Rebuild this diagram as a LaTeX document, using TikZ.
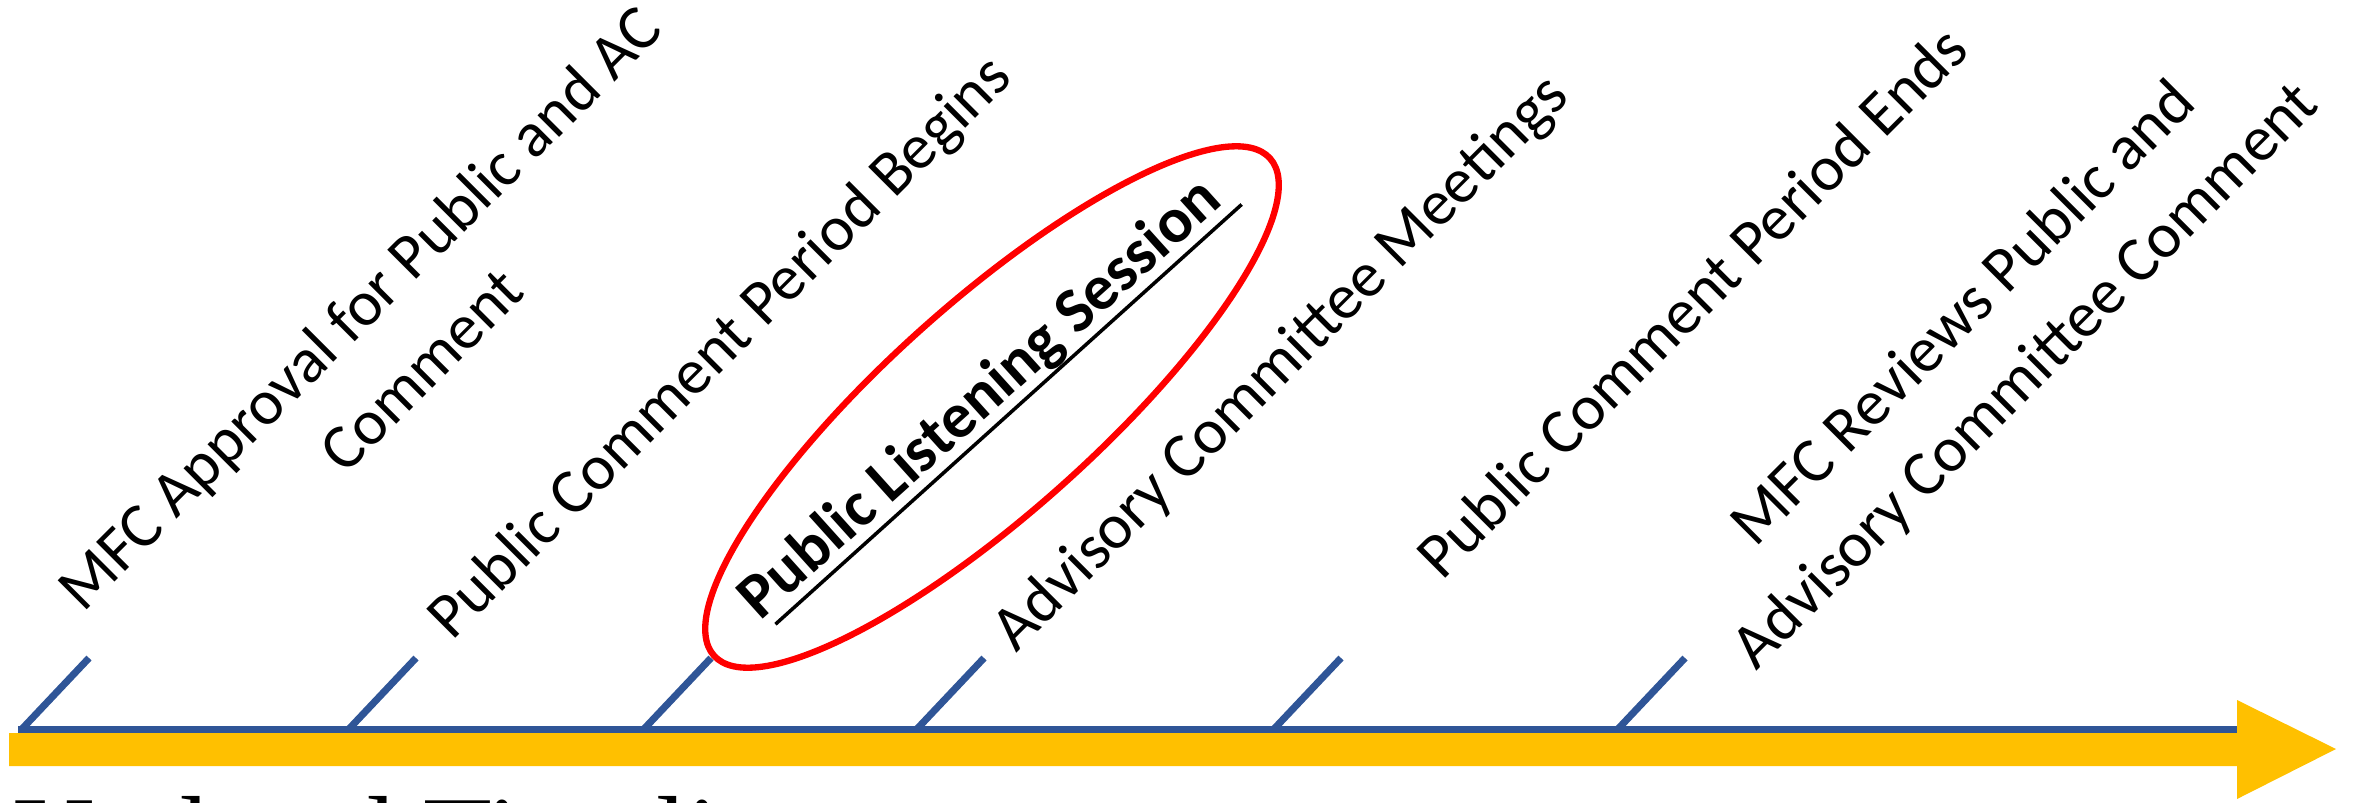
\documentclass[tikz,border=0pt]{standalone}
\usepackage{fontspec}
\setmainfont{Carlito}
\newfontfamily\timelinefont{Liberation Serif}
\usetikzlibrary{calc}
\definecolor{tickblue}{RGB}{47,85,151}
\definecolor{arrowgold}{RGB}{255,192,0}

\begin{document}
\begin{tikzpicture}[x=0.01cm,y=0.01cm,
  tickline/.style={draw=tickblue,line width=2pt},
  event/.style={rotate=45,anchor=base west,inner sep=0pt,align=center,
    font=\fontsize{18.2}{25}\selectfont}]
  \useasboundingbox (0,0) rectangle (2354,802);
  \clip (0,0) rectangle (2354,802);
  % gold arrow with the blue line on top
  \fill[arrowgold] (9,36) -- (9,69) -- (2237,69) -- (2237,102) -- (2336,53) -- (2237,3) -- (2237,36) -- cycle;
  \coordinate (start) at (18,72.5);
  \coordinate (stop) at (2237,72.5);
  \draw[tickline] (start) -- (stop);
  % ticks
  \foreach \x [count=\i] in {21,348,643,916,1273,1617}{
    \coordinate (foot\i) at (\x,72);
    \coordinate (top\i) at (\x+68,144);
    \draw[tickline] (foot\i) -- (top\i);
  }
  % events (two-line nodes sit on their last line)
  \node[event] (mfcok) at (145,126) {MFC Approval for Public and AC\\Comment};
  \node[event] (pcbegin) at (452,160) {Public Comment Period Begins};
  \node[event,rotate=-3,font=\fontsize{18.2}{25}\selectfont\bfseries] (pls) at (760,180) {Public Listening Session};
  \node[event] (acmeet) at (1016,148) {Advisory Committee Meetings};
  \node[event] (pcend) at (1442,220) {Public Comment Period Ends};
  \node[event] (mfcrev) at (1756,130) {MFC Reviews Public and\\Advisory Committee Comment};
  \draw[line width=1pt] ($(pls.base west)+(-48:12)+(42:10)$) -- ($(pls.base east)+(-48:12)+(42:12)$);
  \draw[red,line width=1.8pt,rotate around={41.8:(992,395)}] (992,395) ellipse (373 and 105);
  \node[anchor=base west,inner sep=0pt,font=\timelinefont\fontsize{32}{38}\selectfont] (title) at (13,-72) {Updated Timeline};
\end{tikzpicture}
\end{document}
